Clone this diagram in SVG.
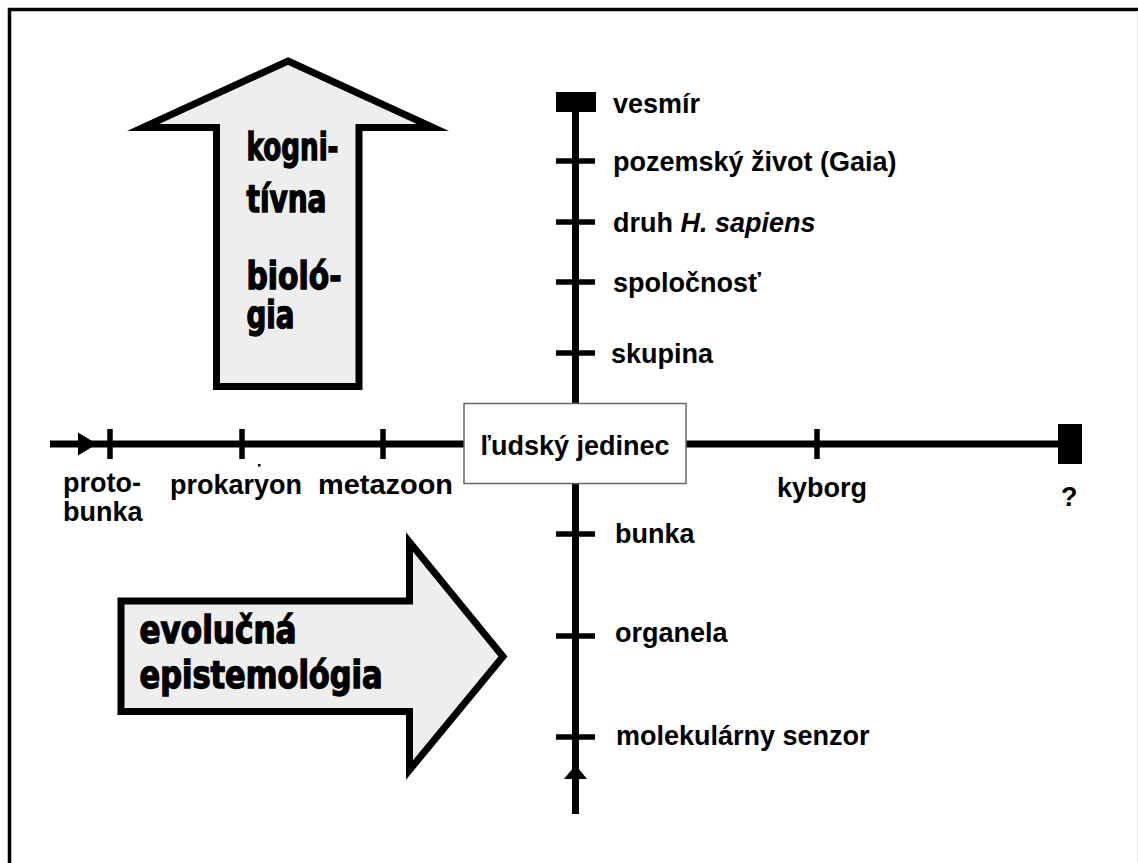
<svg xmlns="http://www.w3.org/2000/svg" width="1138" height="863" viewBox="0 0 1138 863">
<style>
.lbl{font-family:"Liberation Sans",Arial,sans-serif;font-weight:bold;font-size:27px;fill:#000}
.big{font-family:"Liberation Sans Narrow","DejaVu Sans Condensed","Liberation Sans",sans-serif;font-weight:bold;font-size:37px;fill:#000;stroke:#000;stroke-width:1.3}
.axis{stroke:#000;stroke-width:7;fill:none}
.tick{stroke:#000;stroke-width:5.5;fill:none}
.arrow{fill:#eeeeee;stroke:#000;stroke-width:7;stroke-linejoin:miter;stroke-miterlimit:10}
</style>
<rect x="0" y="0" width="1138" height="863" fill="#fff"/>
<path d="M9.5,863 V9.5 H1138" fill="none" stroke="#000" stroke-width="3.5"/>
<line x1="1137.5" y1="11" x2="1137.5" y2="863" stroke="#e6e6e6" stroke-width="1"/>

<g id="arrow-kognitivna-biologia">
<path class="arrow" d="M288,61 L433,127.5 L359,127.5 L359,386.5 L216.5,386.5 L216.5,127.5 L143,127.5 Z"/>
<text class="big" x="246.5" y="160" textLength="92" lengthAdjust="spacingAndGlyphs">kogni-</text>
<text class="big" x="246.5" y="211.5" textLength="80" lengthAdjust="spacingAndGlyphs">tívna</text>
<text class="big" x="246.5" y="288.5" textLength="95" lengthAdjust="spacingAndGlyphs">bioló-</text>
<text class="big" x="246.5" y="328" textLength="48" lengthAdjust="spacingAndGlyphs">gia</text>
</g>

<g id="arrow-evolucna-epistemologia">
<path class="arrow" d="M121,601 L409.5,601 L409.5,542 L503,656.5 L409.5,770 L409.5,711.5 L121,711.5 Z"/>
<text class="big" x="139.5" y="643" textLength="157" lengthAdjust="spacingAndGlyphs">evolučná</text>
<text class="big" x="139.5" y="688" textLength="243" lengthAdjust="spacingAndGlyphs">epistemológia</text>
</g>

<g id="connectors">
<line class="axis" x1="50" y1="444" x2="464" y2="444"/>
<line class="axis" x1="686" y1="444" x2="1060" y2="444"/>
<polygon points="78,432.5 97,444 78,455.5" fill="#000"/>
<rect x="1058" y="424" width="24" height="40" fill="#000"/>
<line class="tick" x1="110" y1="429" x2="110" y2="459"/>
<line class="tick" x1="242" y1="429" x2="242" y2="459"/>
<line class="tick" x1="383" y1="429" x2="383" y2="459"/>
<line class="tick" x1="817" y1="429" x2="817" y2="459"/>
<rect x="258" y="464" width="2.5" height="2.5" fill="#000"/>

<line class="axis" x1="575.5" y1="100" x2="575.5" y2="814"/>
<rect x="556" y="92" width="40" height="20" fill="#000"/>
<line class="tick" x1="556" y1="161" x2="595" y2="161"/>
<line class="tick" x1="556" y1="222" x2="595" y2="222"/>
<line class="tick" x1="556" y1="282" x2="595" y2="282"/>
<line class="tick" x1="556" y1="353" x2="595" y2="353"/>
<line class="tick" x1="556" y1="534" x2="595" y2="534"/>
<line class="tick" x1="556" y1="636" x2="595" y2="636"/>
<line class="tick" x1="556" y1="737" x2="595" y2="737"/>
<polygon points="564,779 575.5,765 587,779" fill="#000"/>
</g>

<g id="node-center">
<rect x="464" y="403.5" width="222" height="80" fill="#fff" stroke="#666" stroke-width="1.5"/>
<text class="lbl" x="575" y="455" text-anchor="middle">ľudský jedinec</text>
</g>

<g id="labels-horizontal">
<text class="lbl" x="63" y="492">proto-</text>
<text class="lbl" x="63" y="521">bunka</text>
<text class="lbl" x="170" y="494">prokaryon</text>
<text class="lbl" x="318" y="494" textLength="135" lengthAdjust="spacingAndGlyphs">metazoon</text>
<text class="lbl" x="777" y="497">kyborg</text>
<text class="lbl" x="1061" y="506">?</text>
</g>

<g id="labels-vertical">
<text class="lbl" x="613" y="113">vesmír</text>
<text class="lbl" x="613" y="171">pozemský život (Gaia)</text>
<text class="lbl" x="613" y="232">druh <tspan font-style="italic">H. sapiens</tspan></text>
<text class="lbl" x="613" y="292">spoločnosť</text>
<text class="lbl" x="611" y="363">skupina</text>
<text class="lbl" x="615" y="543">bunka</text>
<text class="lbl" x="615" y="642">organela</text>
<text class="lbl" x="616" y="745">molekulárny senzor</text>
</g>
</svg>
